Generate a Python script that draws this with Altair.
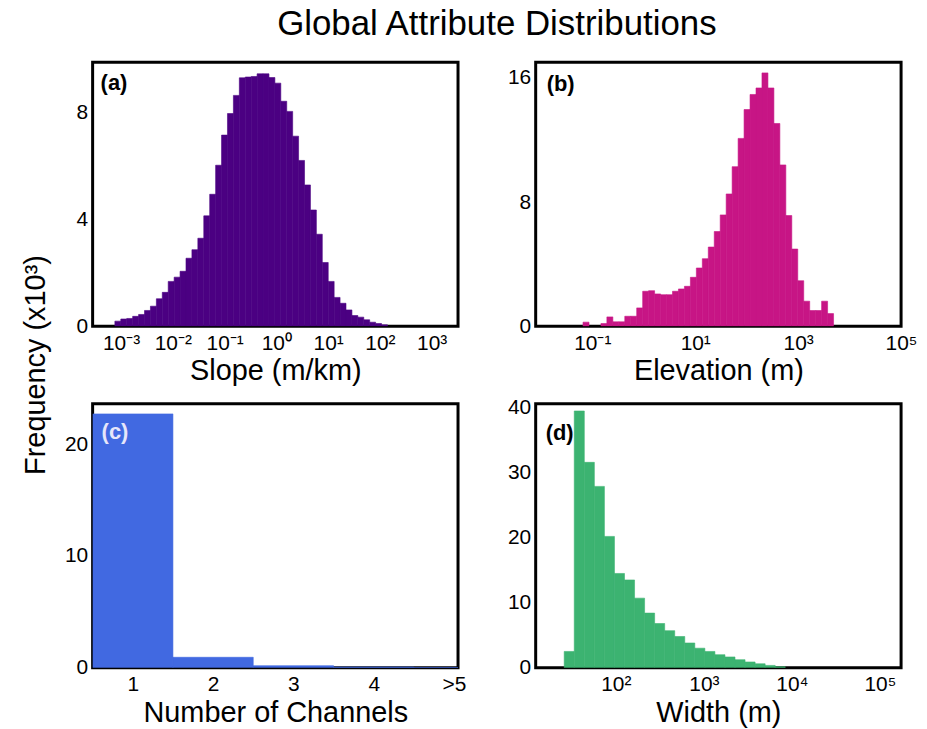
import altair as alt
import pandas as pd

FONT = "Liberation Sans"

# ---------------- data ----------------
# (a) Slope histogram: log10 bin start, log10 bin width, counts (x10^3)
slope_log_start = -3.12
slope_log_step = 0.1145
slope_counts = [0.19, 0.27, 0.29, 0.37, 0.44, 0.59, 0.75, 1.03, 1.27, 1.68,
                1.84, 2.06, 2.55, 2.87, 3.30, 4.14, 4.95, 6.04, 7.17, 7.98,
                8.66, 9.32, 9.35, 9.37, 9.47, 9.47, 9.33, 9.12, 8.44, 8.06,
                7.13, 6.22, 5.30, 4.36, 3.45, 2.39, 1.68, 1.08, 0.86, 0.61,
                0.40, 0.34, 0.24, 0.15, 0.10, 0.05]

# (b) Elevation histogram
elev_log_start = -1.18
elev_log_step = 0.1159
elev_counts = [0.26, 0.0, 0.0, 0.17, 0.60, 0.28, 0.28, 0.64, 0.64, 1.18,
               2.25, 2.29, 2.08, 2.03, 2.03, 2.25, 2.40, 2.57, 3.15, 3.75,
               4.35, 5.10, 6.10, 7.17, 8.52, 10.28, 12.10, 13.96, 14.93, 15.35,
               16.32, 15.35, 13.06, 10.39, 7.13, 4.97, 2.93, 1.61, 1.01, 1.01,
               1.61, 0.81]

# (c) Number of channels
chan_categories = [1, 2, 3, 4, 5]
chan_counts = [22.7, 0.93, 0.18, 0.06, 0.02]

# (d) Width histogram
width_log_start = 1.414
width_log_step = 0.1141
width_counts = [2.5, 39.5, 31.6, 27.9, 20.2, 14.5, 13.5, 10.7, 8.4, 6.8,
                5.7, 4.8, 3.8, 3.0, 2.5, 2.0, 1.65, 1.23, 0.88, 0.6,
                0.35, 0.15]

SUP = {"-": "\u207b", "0": "\u2070", "1": "\u00b9", "2": "\u00b2", "3": "\u00b3",
       "4": "\u2074", "5": "\u2075"}


def pow_label_expr(exps):
    expr = "''"
    for e in reversed(exps):
        lab = "10" + "".join(SUP[c] for c in str(e))
        expr = f"datum.value == {e} ? '{lab}' : ({expr})"
    return expr


def log_hist_df(start, step, counts):
    rows = []
    for i, c in enumerate(counts):
        if c <= 0:
            continue
        rows.append({"x0": start + i * step, "x1": start + (i + 1) * step,
                     "count": c, "base": 0.0})
    return pd.DataFrame(rows)


W, H = 367, 265
GAP = 78


def panel(df, color, xdomain, xvalues, xlabelexpr, xtitle, ydomain, yvalues,
          label, label_color, label_x, label_y, extra=()):
    bars = alt.Chart(df).mark_rect(color=color, stroke=color, strokeWidth=0.6, clip=True).encode(
        x=alt.X("x0:Q",
                scale=alt.Scale(domain=xdomain, nice=False, zero=False),
                axis=alt.Axis(values=xvalues, labelExpr=xlabelexpr, title=xtitle,
                              labelFlush=False, labelOverlap=False, labelPadding=6)),
        x2="x1:Q",
        y=alt.Y("count:Q",
                scale=alt.Scale(domain=ydomain, nice=False, zero=True),
                axis=alt.Axis(values=yvalues, title=None, labelPadding=5)),
        y2="base:Q",
    )
    lab = alt.Chart(pd.DataFrame({"t": [label]})).mark_text(
        align="left", baseline="middle", fontSize=22, fontWeight="bold",
        font=FONT, color=label_color
    ).encode(x=alt.value(label_x), y=alt.value(label_y), text="t:N")
    return alt.layer(bars, lab, *extra).properties(width=W, height=H)


# shared y-axis title, to the left of panel (a), centred between the two rows
ytitle = alt.Chart(pd.DataFrame({"t": ["Frequency (x10\u00b3)"]})).mark_text(
    angle=270, align="center", baseline="middle", fontSize=29, font=FONT, color="black"
).encode(x=alt.value(-57), y=alt.value(H + GAP / 2), text="t:N")

# figure title, centred over the two columns
main_title = alt.Chart(pd.DataFrame({"t": ["Global Attribute Distributions"]})).mark_text(
    align="center", baseline="middle", fontSize=35, font=FONT, color="black"
).encode(x=alt.value(W + GAP / 2), y=alt.value(-38), text="t:N")

a = panel(log_hist_df(slope_log_start, slope_log_step, slope_counts), "#4B0082",
          [-3.55, 3.51], [-3, -2, -1, 0, 1, 2, 3], pow_label_expr([-3, -2, -1, 0, 1, 2, 3]),
          "Slope (m/km)", [0, 9.9], [0, 4, 8], "(a)", "black", 8, 21,
          extra=(ytitle, main_title))

b = panel(log_hist_df(elev_log_start, elev_log_step, elev_counts), "#C71585",
          [-2.1, 5.0], [-1, 1, 3, 5], pow_label_expr([-1, 1, 3, 5]),
          "Elevation (m)", [0, 17.0], [0, 8, 16], "(b)", "black", 11, 22)

chan_df = pd.DataFrame({
    "x0": [v - 0.5 for v in chan_categories],
    "x1": [v + 0.5 for v in chan_categories],
    "count": chan_counts,
    "base": [0.0] * len(chan_categories),
})
c = panel(chan_df, "#4169E1",
          [0.5, 5.05], chan_categories, "datum.value == 5 ? '>5' : datum.label",
          "Number of Channels", [0, 23.6], [0, 10, 20], "(c)", "#e6e6fa", 9, 28)

d = panel(log_hist_df(width_log_start, width_log_step, width_counts), "#3CB371",
          [1.09, 5.24], [2, 3, 4, 5], pow_label_expr([2, 3, 4, 5]),
          "Width (m)", [0, 40.6], [0, 10, 20, 30, 40], "(d)", "black", 10, 29)

chart = alt.concat(
    a, b, c, d, columns=2, spacing=GAP, bounds="flush",
).resolve_scale(
    x="independent", y="independent"
).properties(
    padding={"left": 12, "top": -4, "right": 0, "bottom": 0}
).configure_view(
    stroke="black", strokeWidth=3
).configure_axis(
    domain=False, ticks=False, grid=False,
    labelFont=FONT, labelFontSize=21, labelColor="black",
    titleFont=FONT, titleFontSize=29, titleFontWeight="normal", titleColor="black",
    titlePadding=4,
)

chart.save("out.html", embed_options={"renderer": "svg", "actions": False})
